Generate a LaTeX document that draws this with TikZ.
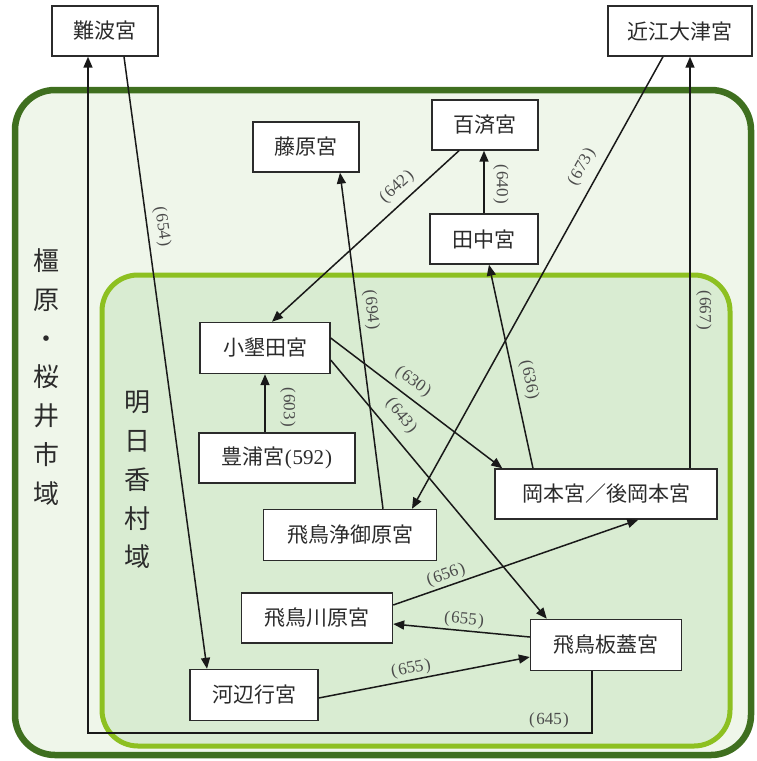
\documentclass[tikz,border=0pt]{standalone}
\usepackage{fontspec}
\usetikzlibrary{arrows.meta}
\newfontfamily\cjk{Noto Sans CJK JP}
\newfontfamily\numfont{Liberation Serif}
\definecolor{outerline}{HTML}{3F6F1F}
\definecolor{outerfill}{HTML}{EFF6EA}
\definecolor{innerline}{HTML}{8DC021}
\definecolor{innerfill}{HTML}{D9ECD2}
\definecolor{ink}{HTML}{2B2B2B}
\newcommand{\yr}[1]{{\numfont(\kern1.5pt#1\kern1.5pt)}}
\tikzset{
  palace/.style={draw=ink, line width=1.4pt, fill=white, text=ink,
    inner sep=0pt, font=\cjk\fontsize{21}{23}\selectfont},
  arr/.style={draw=black!90, line width=1.5pt, -{Triangle[length=11pt,width=9pt]}},
  yrlbl/.style={text=ink!85, inner sep=0pt, font=\numfont\fontsize{17}{17}\selectfont},
  vlabel/.style={text=ink, align=center, inner sep=0pt,
    font=\cjk\fontsize{26}{38.8}\selectfont}
}
\begin{document}
\begin{tikzpicture}[x=1pt,y=-1pt]
\useasboundingbox (0,0) rectangle (756,761);
% regions
\draw[outerline, line width=6.5pt, fill=outerfill, rounded corners=40pt] (15,90) rectangle (751,755);
\draw[innerline, line width=5pt, fill=innerfill, rounded corners=36pt] (102,275) rectangle (730,746);
\node[vlabel] (kashihara) at (47,377) {橿\\原\\・\\桜\\井\\市\\域};
\node[vlabel] (asuka) at (137,480) {明\\日\\香\\村\\域};
% palaces
\node[palace, minimum width=106pt, minimum height=50pt] (naniwa) at (105,31) {難波宮};
\node[palace, minimum width=144pt, minimum height=50pt] (omi) at (680,31) {近江大津宮};
\node[palace, minimum width=106pt, minimum height=50pt] (fujiwara) at (306,147) {藤原宮};
\node[palace, minimum width=106pt, minimum height=50pt] (kudara) at (485,125) {百済宮};
\node[palace, minimum width=108pt, minimum height=50pt] (tanaka) at (484,239) {田中宮};
\node[palace, minimum width=130pt, minimum height=51pt] (oharida) at (265,348) {小墾田宮};
\node[palace, minimum width=156pt, minimum height=50pt] (toyura) at (277,458) {豊浦宮{\numfont\fontsize{21}{22}\selectfont(\kern1pt592\kern1pt)}};
\node[palace, minimum width=222pt, minimum height=50pt] (okamoto) at (606,494) {岡本宮／後岡本宮};
\node[palace, minimum width=173pt, minimum height=51pt] (kiyomihara) at (350,535) {飛鳥浄御原宮};
\node[palace, minimum width=151pt, minimum height=50pt] (kawara) at (317,618) {飛鳥川原宮};
\node[palace, minimum width=151pt, minimum height=51pt] (itabuki) at (606,645) {飛鳥板蓋宮};
\node[palace, minimum width=128pt, minimum height=51pt] (kawabe) at (254,695) {河辺行宮};
% connectors
\draw[arr] (toyura.north -| oharida) -- (oharida.south);
\draw[arr] (tanaka.north) -- (tanaka.north |- kudara.south);
\draw[arr] ([xshift=-26pt]kudara.south) -- ([xshift=7pt]oharida.north);
\draw[arr] ([xshift=-73pt]okamoto.north) -- ([xshift=5pt]tanaka.south);
\draw[arr] ([xshift=84pt]okamoto.north) -- ([xshift=84pt]okamoto.north |- omi.south);
\draw[arr] ([xshift=33pt]kiyomihara.north) -- ([xshift=34pt]fujiwara.south);
\draw[arr] ([xshift=-17pt]omi.south) -- ([xshift=62pt]kiyomihara.north);
\draw[arr] ([xshift=19pt]naniwa.south) -- ([xshift=-47pt]kawabe.north);
\coordinate (c645) at (300,733);
\draw[arr] ([xshift=-14pt]itabuki.south) |- (c645) -| ([xshift=-17pt]naniwa.south);
\draw[arr] ([yshift=10pt]oharida.east) -- ([xshift=8pt]okamoto.north west);
\draw[arr] ([yshift=-12pt]oharida.east) -- ([xshift=17pt]itabuki.north west);
\draw[arr] ([yshift=13pt]kawara.east) -- ([xshift=144pt]okamoto.south west);
\draw[arr] ([yshift=8pt]itabuki.west) -- ([yshift=-6pt]kawara.east);
\draw[arr] ([yshift=-3pt]kawabe.east) -- ([yshift=-12pt]itabuki.west);
% year labels
\node[yrlbl, rotate=-90] (l603) at (288,407) {\yr{603}};
\node[yrlbl, rotate=-90] (l640) at (501,184) {\yr{640}};
\node[yrlbl, rotate=-90] (l667) at (704,310) {\yr{667}};
\node[yrlbl, rotate=-82] (l654) at (162,227) {\yr{654}};
\node[yrlbl, rotate=-84] (l694) at (371,310) {\yr{694}};
\node[yrlbl, rotate=-78] (l636) at (529,380) {\yr{636}};
\node[yrlbl, rotate=42.5] (l642) at (397,187) {\yr{642}};
\node[yrlbl, rotate=61] (l673) at (582,167) {\yr{673}};
\node[yrlbl, rotate=-36] (l630) at (413,382) {\yr{630}};
\node[yrlbl, rotate=-52] (l643) at (401,416) {\yr{643}};
\node[yrlbl, rotate=19] (l656) at (446,575) {\yr{656}};
\node[yrlbl, rotate=-5] (l655a) at (464,620) {\yr{655}};
\node[yrlbl, rotate=11] (l655b) at (411,669) {\yr{655}};
\node[yrlbl] (l645) at (549,720) {\yr{645}};
\end{tikzpicture}
\end{document}
